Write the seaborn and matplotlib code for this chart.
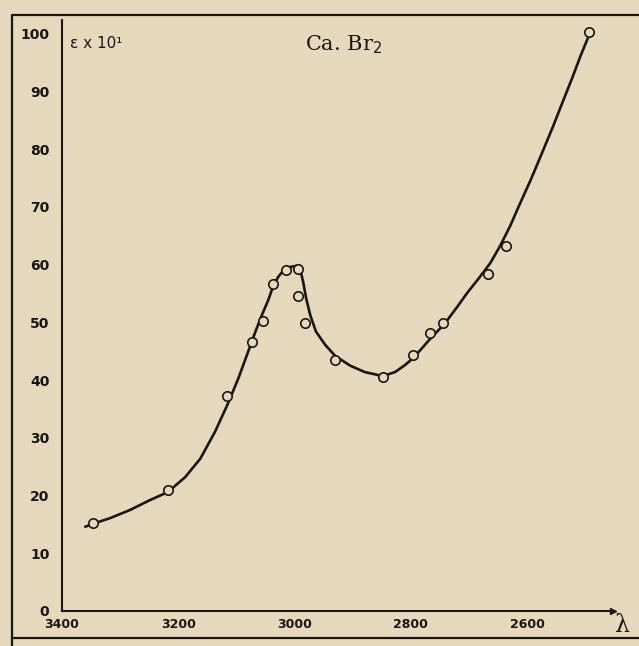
import matplotlib
matplotlib.use("Agg")
import matplotlib.pyplot as plt
from matplotlib.lines import Line2D
import seaborn as sns
import pandas as pd

# Measured points (wavelength in Angstrom, epsilon x 10^1)
point_wavelength = [3347, 3218, 3116, 3073, 3054, 3037, 3014, 2994, 2994, 2982,
                    2930, 2848, 2796, 2767, 2744, 2667, 2636, 2493]
point_epsilon = [15.3, 21.0, 37.3, 46.6, 50.3, 56.7, 59.1, 59.3, 54.6, 49.9,
                 43.5, 40.6, 44.4, 48.2, 49.9, 58.4, 63.3, 100.3]

# Hand-drawn smooth curve
curve_wavelength = [3360, 3347, 3317, 3283, 3249, 3218, 3188, 3162, 3137, 3116,
                    3097, 3082, 3068, 3056, 3045, 3037, 3028, 3018, 3008, 2997,
                    2990, 2985, 2980, 2973, 2963, 2947, 2930, 2904, 2879, 2848,
                    2827, 2810, 2796, 2780, 2767, 2749, 2737, 2720, 2703, 2684,
                    2663, 2646, 2629, 2612, 2594, 2576, 2555, 2539, 2522, 2507,
                    2491]
curve_epsilon = [14.6, 15.1, 16.1, 17.5, 19.2, 20.6, 23.2, 26.4, 31.0, 35.6,
                 40.2, 44.3, 48.2, 51.3, 53.9, 56.2, 57.9, 59.1, 59.6, 59.8,
                 59.1, 57.0, 54.2, 51.3, 48.4, 46.1, 44.2, 42.5, 41.4, 40.7,
                 41.4, 42.6, 43.8, 45.6, 47.1, 49.0, 50.4, 52.7, 55.1, 57.5,
                 60.3, 63.3, 66.7, 70.6, 74.6, 78.9, 84.0, 88.1, 92.4, 96.4,
                 100.3]

x_ticks = [3400, 3300, 3200, 3100, 3000, 2900, 2800, 2700, 2600, 2500]
x_tick_labels = ["3400", "", "3200", "", "3000", "", "2800", "", "2600", ""]
y_ticks = [0, 10, 20, 30, 40, 50, 60, 70, 80, 90, 100]

bg = "#e6d8bc"
ink = "#1a1712"

sns.set_style("white")
plt.rcParams["font.family"] = ["DejaVu Sans"]

fig = plt.figure(figsize=(6.39, 6.46), dpi=100, facecolor=bg)
ax = fig.add_axes([62 / 639, 1 - 611 / 646, (613 - 62) / 639, (611 - 20) / 646])
ax.set_facecolor(bg)

curve = pd.DataFrame({"wl": curve_wavelength, "eps": curve_epsilon})
pts = pd.DataFrame({"wl": point_wavelength, "eps": point_epsilon})

sns.lineplot(data=curve, x="wl", y="eps", sort=False, estimator=None,
             color=ink, linewidth=1.9, ax=ax, zorder=2)
sns.scatterplot(data=pts, x="wl", y="eps", marker="o", s=46,
                facecolor=bg, edgecolor=ink, linewidth=1.2, ax=ax, zorder=3)

ax.set_xlim(3400, 2452)
ax.set_ylim(0, 102.4)
ax.set_xlabel("")
ax.set_ylabel("")

for side in ["top", "right"]:
    ax.spines[side].set_visible(False)
for side in ["left", "bottom"]:
    ax.spines[side].set_color(ink)
    ax.spines[side].set_linewidth(1.5)

ax.set_xticks(x_ticks)
ax.set_xticklabels(x_tick_labels)
ax.set_yticks(y_ticks)
ax.set_yticklabels([str(v) for v in y_ticks])
ax.tick_params(axis="x", direction="in", length=4.5, width=1.2, color=ink,
               pad=5, labelsize=9, labelcolor=ink)
ax.tick_params(axis="y", direction="in", length=5, width=1.2, color=ink,
               pad=9, labelsize=10, labelcolor=ink)
for lab in ax.get_xticklabels() + ax.get_yticklabels():
    lab.set_fontweight("bold")

# arrowhead at the end of the wavelength axis
ax.plot([2452], [0], marker=">", markersize=4, color=ink, clip_on=False)

# labels
fig.text(70 / 639, 1 - 43 / 646, "ε x 10¹", fontsize=11, color=ink,
         ha="left", va="center")
fig.text(305 / 639, 1 - 45 / 646, "Ca. Br$_2$", fontsize=15, color=ink,
         family="DejaVu Serif", ha="left", va="center")
fig.text(622 / 639, 1 - 626 / 646, "λ", fontsize=17, color=ink,
         family="DejaVu Serif", ha="center", va="center")

# outer frame of the scanned figure
fig.add_artist(Line2D([12 / 639, 1.0], [1 - 15 / 646, 1 - 15 / 646],
                      transform=fig.transFigure, color=ink, linewidth=1.6))
fig.add_artist(Line2D([12 / 639, 12 / 639], [0.0, 1 - 15 / 646],
                      transform=fig.transFigure, color=ink, linewidth=1.6))
fig.add_artist(Line2D([12 / 639, 1.0], [1 - 638 / 646, 1 - 638 / 646],
                      transform=fig.transFigure, color=ink, linewidth=1.6))

fig.savefig("out.png", dpi=100, facecolor=bg)
